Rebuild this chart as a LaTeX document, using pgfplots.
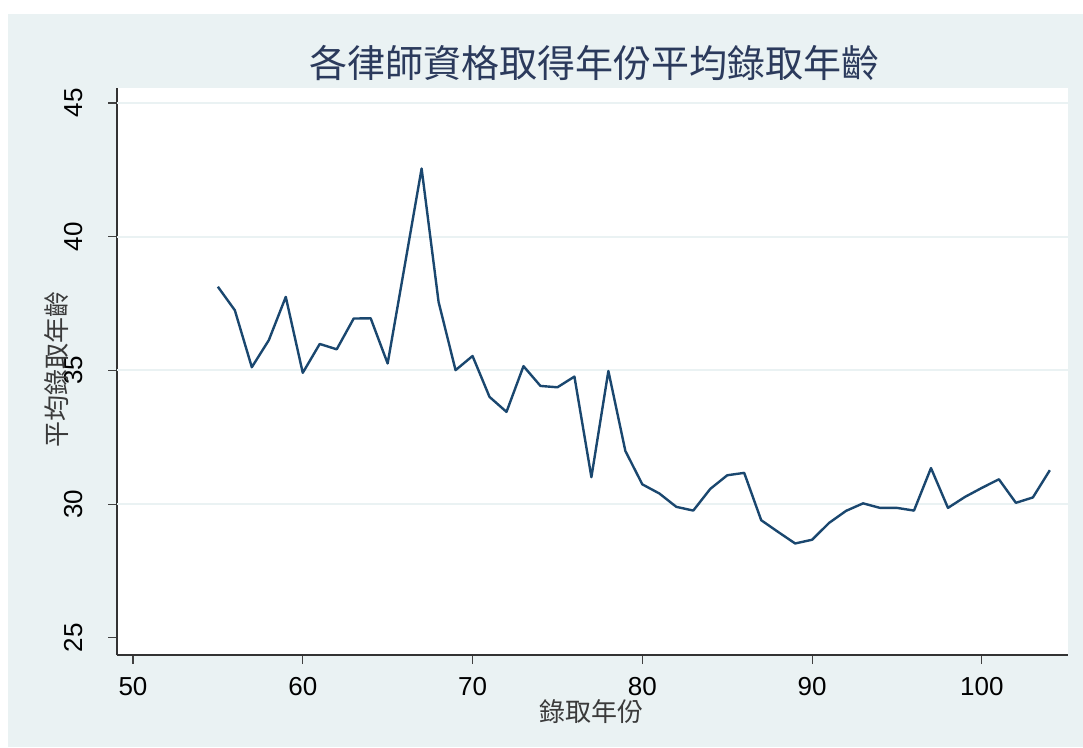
\documentclass[border=0pt]{standalone}
\usepackage{pgfplots}
\pgfplotsset{compat=1.18}
\usepackage{fontspec}
\setmainfont{Liberation Sans}
\newfontfamily\cjk{Noto Sans CJK TC}
\definecolor{bgc}{HTML}{EAF2F3}
\definecolor{navy}{HTML}{1A476F}
\definecolor{titlec}{HTML}{2B3A5C}
\definecolor{labc}{HTML}{3A3A3A}
\begin{document}
\begin{tikzpicture}[x=1pt,y=1pt]
\useasboundingbox (0,0) rectangle (1083,747);
\fill[white] (0,0) rectangle (1083,747);
\fill[bgc] (8,0) rectangle (1083,733);
\begin{axis}[
  at={(117pt,92pt)}, anchor=south west,
  scale only axis, width=951pt, height=567pt,
  xmin=49.06, xmax=105.07, ymin=24.36, ymax=45.56,
  axis background/.style={fill=white},
  axis x line*=bottom, axis y line*=left,
  axis line style={-, black!80, line width=1.2pt},
  xtick={50,60,...,100}, ytick={25,30,...,45},
  extra y ticks={30,35,40,45}, extra y tick labels={},
  extra y tick style={ymajorgrids=true, major tick length=0pt},
  major grid style={bgc, line width=2pt},
  tick align=outside, major tick length=9pt,
  tick style={black!75, line width=1.1pt},
  /pgf/number format/assume math mode=true,
  xticklabel style={font=\fontsize{26}{26}\selectfont, yshift=-10pt},
  yticklabel style={font=\fontsize{26}{26}\selectfont, rotate=90, anchor=south, yshift=22pt},
  clip=false,
]
\addplot[navy, line width=2.4pt, line join=round] coordinates {
(55,38.13) (56,37.25) (57,35.12) (58,36.13) (59,37.75) (60,34.91)
(61,35.99) (62,35.79) (63,36.94) (64,36.95) (65,35.26) (66,38.90)
(67,42.55) (68,37.56) (69,35.01) (70,35.54) (71,34.01) (72,33.45)
(73,35.16) (74,34.42) (75,34.37) (76,34.77) (77,31.01) (78,34.98)
(79,31.99) (80,30.74) (81,30.40) (82,29.90) (83,29.76) (84,30.57)
(85,31.08) (86,31.17) (87,29.40) (88,28.96) (89,28.53) (90,28.67)
(91,29.30) (92,29.75) (93,30.03) (94,29.86) (95,29.86) (96,29.76)
(97,31.35) (98,29.86) (99,30.27) (100,30.61) (101,30.93) (102,30.05)
(103,30.25) (104,31.27)
};
\end{axis}
\node[titlec, font=\cjk\fontsize{38}{38}\selectfont] at (594,684) {各律師資格取得年份平均錄取年齡};
\node[labc, font=\cjk\fontsize{26}{26}\selectfont] at (591,35) {錄取年份};
\node[labc, font=\cjk\fontsize{26}{26}\selectfont, rotate=90] at (57,377) {平均錄取年齡};
\end{tikzpicture}
\end{document}
